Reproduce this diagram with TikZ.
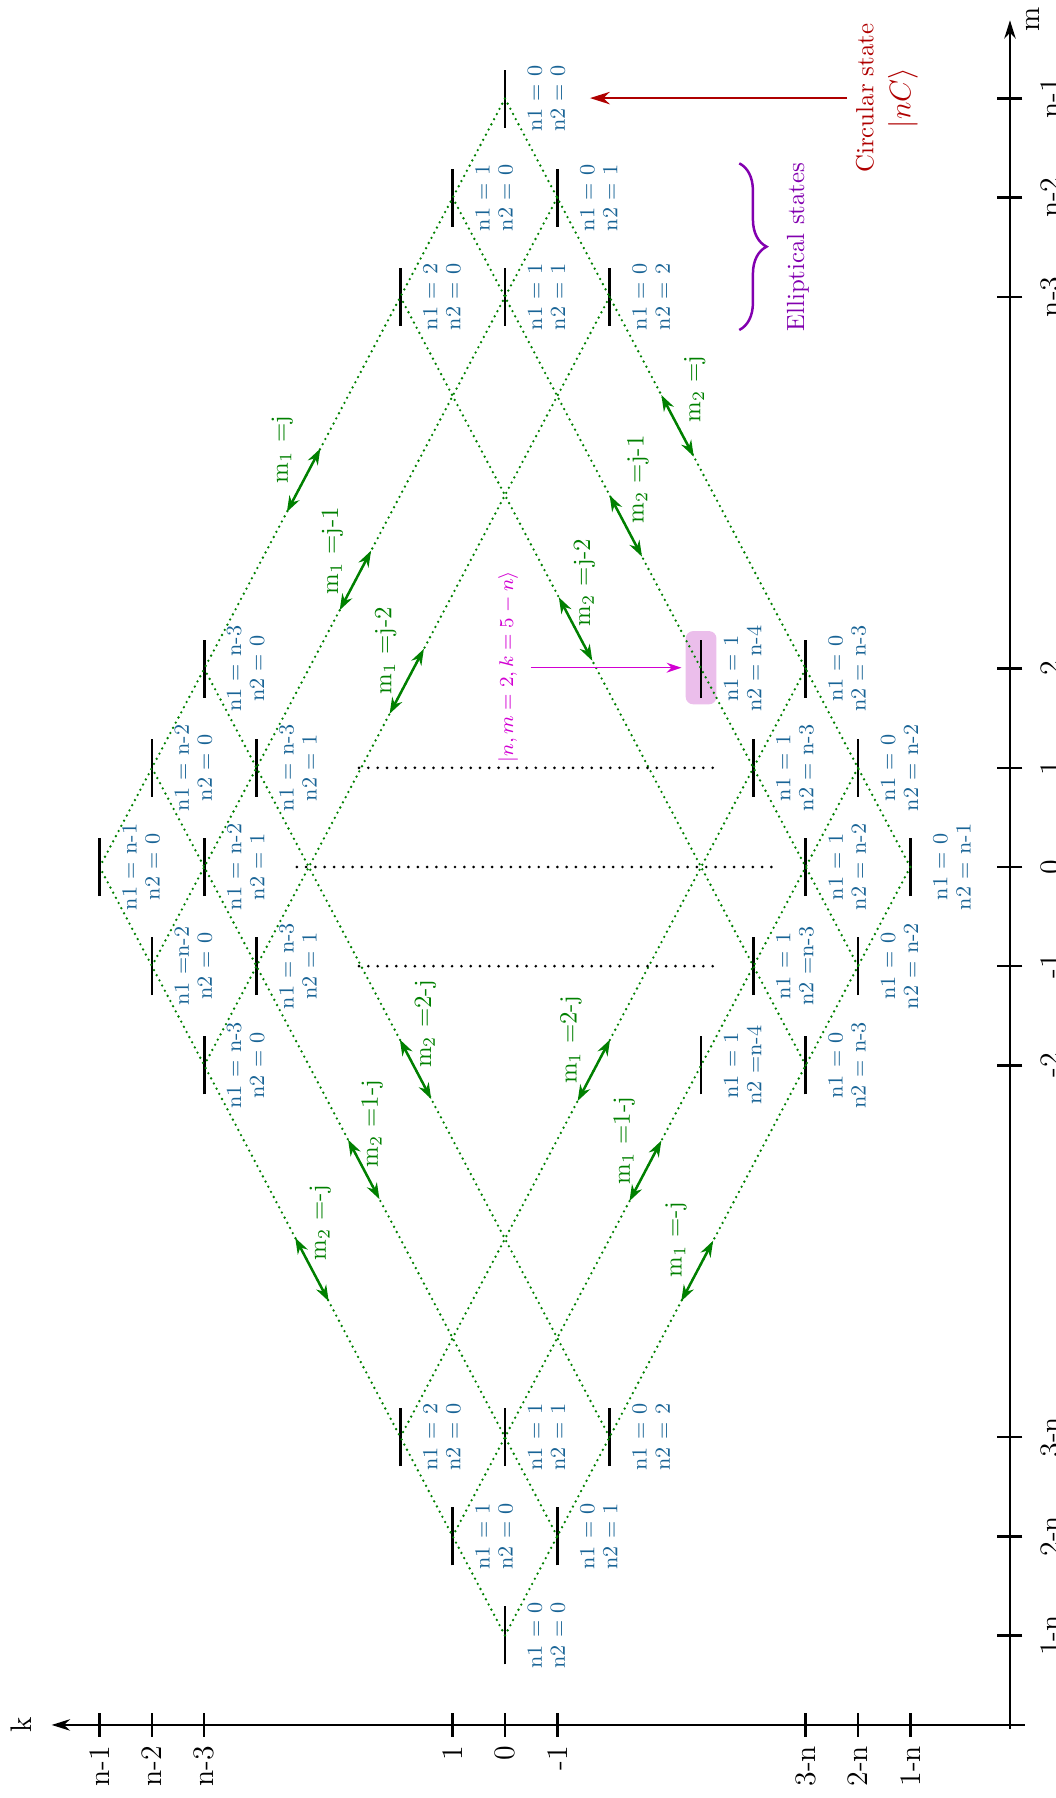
\documentclass[tikz,border=0pt]{standalone}
\usetikzlibrary{arrows.meta,decorations.pathreplacing}
\definecolor{dgreen}{RGB}{0,128,0}
\definecolor{nblue}{RGB}{25,100,150}
\definecolor{cred}{RGB}{175,0,0}
\definecolor{purp}{RGB}{130,0,175}
\definecolor{magc}{RGB}{210,0,210}
\definecolor{hlpink}{RGB}{235,190,235}
\def\nn{8.75}
\tikzset{
  levelbar/.style={line width=1.1pt, black},
  nlab/.style={rotate=90, align=center, text=nblue, font=\fontsize{8.7}{9.3}\selectfont, inner sep=0pt},
  gdots/.style={dgreen, line width=1.05pt, line cap=round, dash pattern=on 0pt off 2.35pt},
  bdots/.style={black, line width=1.2pt, line cap=round, dash pattern=on 0pt off 3.75pt},
  garr/.style={dgreen, line width=1pt, {Stealth[length=6.5pt,width=4.5pt]}-{Stealth[length=6.5pt,width=4.5pt]}},
  glab/.style={rotate=90, text=dgreen, inner sep=0pt},
  axisline/.style={line width=1pt, -{Stealth[length=7.4pt,width=4.6pt]}},
  axtick/.style={line width=1pt},
  klab/.style={rotate=90, anchor=east, inner sep=0pt, font=\large},
  mlab/.style={rotate=90, anchor=north, inner sep=0pt, font=\large}
}
\newcommand{\lvl}[5]{%
  \coordinate (#3) at ({#1},{#2});
  \draw[levelbar] ({#1-0.293},{#2}) -- ({#1+0.293},{#2});
  \node[nlab] (#3l) at ({#1},{#2-0.793}) {#4\\#5};
}
\begin{document}
\begin{tikzpicture}[x={(0pt,39.957pt)}, y={(-21.077pt,0pt)}]
\useasboundingbox (-203.5pt,-375.19pt) rectangle (222.05pt,349.4pt);

% highlight
\node[rotate=90, fill=hlpink, rounded corners=3pt, minimum width=29.5pt, minimum height=12.4pt, inner sep=0pt] (hl) at (2.01,{5-\nn}) {};

% levels: bottom
\lvl{1-\nn}{0}{b0}{n1 = 0}{n2 = 0}
\lvl{2-\nn}{1}{b1u}{n1 = 1}{n2 = 0}
\lvl{2-\nn}{-1}{b1d}{n1 = 0}{n2 = 1}
\lvl{3-\nn}{2}{b2u}{n1 = 2}{n2 = 0}
\lvl{3-\nn}{0}{b2c}{n1 = 1}{n2 = 1}
\lvl{3-\nn}{-2}{b2d}{n1 = 0}{n2 = 2}
% top
\lvl{\nn-1}{0}{t0}{n1 = 0}{n2 = 0}
\lvl{\nn-2}{1}{t1u}{n1 = 1}{n2 = 0}
\lvl{\nn-2}{-1}{t1d}{n1 = 0}{n2 = 1}
\lvl{\nn-3}{2}{t2u}{n1 = 2}{n2 = 0}
\lvl{\nn-3}{0}{t2c}{n1 = 1}{n2 = 1}
\lvl{\nn-3}{-2}{t2d}{n1 = 0}{n2 = 2}
% left (high k)
\lvl{0}{\nn-1}{L0}{n1 = n-1}{n2 = 0}
\lvl{1}{\nn-2}{L1p}{n1 = n-2}{n2 = 0}
\lvl{-1}{\nn-2}{L1m}{n1 =n-2}{n2 = 0}
\lvl{2}{\nn-3}{L2p}{n1 = n-3}{n2 = 0}
\lvl{-2}{\nn-3}{L2m}{n1 = n-3}{n2 = 0}
\lvl{0}{\nn-3}{L0b}{n1 = n-2}{n2 = 1}
\lvl{1}{\nn-4}{L1pb}{n1 = n-3}{n2 = 1}
\lvl{-1}{\nn-4}{L1mb}{n1 = n-3}{n2 = 1}
% right (low k)
\lvl{0}{1-\nn}{R0}{n1 = 0}{n2 = n-1}
\lvl{1}{2-\nn}{R1p}{n1 = 0}{n2 = n-2}
\lvl{-1}{2-\nn}{R1m}{n1 = 0}{n2 = n-2}
\lvl{2}{3-\nn}{R2p}{n1 = 0}{n2 = n-3}
\lvl{-2}{3-\nn}{R2m}{n1 = 0}{n2 = n-3}
\lvl{0}{3-\nn}{R0b}{n1 = 1}{n2 = n-2}
\lvl{1}{4-\nn}{R1pb}{n1 = 1}{n2 = n-3}
\lvl{-1}{4-\nn}{R1mb}{n1 = 1}{n2 =n-3}
\lvl{2}{5-\nn}{R2pb}{n1 = 1}{n2 = n-4}
\lvl{-2}{5-\nn}{R2mb}{n1 = 1}{n2 =n-4}

% dotted grid lines
\draw[gdots] (b0) -- (L0);
\draw[gdots] (b1d) -- (L1p);
\draw[gdots] (b2d) -- (L2p);
\draw[gdots] (R2m) -- (t2u);
\draw[gdots] (R1m) -- (t1u);
\draw[gdots] (R0) -- (t0);
\draw[gdots] (t0) -- (L0);
\draw[gdots] (t1d) -- (L1m);
\draw[gdots] (t2d) -- (L2m);
\draw[gdots] (R2p) -- (b2u);
\draw[gdots] (R1p) -- (b1u);
\draw[gdots] (R0) -- (b0);

% black dotted omission lines
\coordinate (d1a) at (1,2.79);  \coordinate (d1b) at (1,-4.07);
\coordinate (d0a) at (0,3.98);  \coordinate (d0b) at (0,-5.24);
\coordinate (dma) at (-1,2.79); \coordinate (dmb) at (-1,-4.07);
\draw[bdots] (d1a) -- (d1b);
\draw[bdots] (d0a) -- (d0b);
\draw[bdots] (dma) -- (dmb);

% green double arrows with labels
\coordinate (a1s) at (3.58,4.17);   \coordinate (a1e) at (4.22,3.53);
\coordinate (a2s) at (2.59,3.16);   \coordinate (a2e) at (3.19,2.56);
\coordinate (a3s) at (1.545,2.205); \coordinate (a3e) at (2.2,1.55);
\coordinate (a4s) at (2.08,-1.67);  \coordinate (a4e) at (2.72,-1.03);
\coordinate (a5s) at (3.13,-2.62);  \coordinate (a5e) at (3.75,-2.0);
\coordinate (a6s) at (4.14,-3.61);  \coordinate (a6e) at (4.76,-2.99);
\coordinate (a7s) at (-2.34,1.41);  \coordinate (a7e) at (-1.74,2.01);
\coordinate (a8s) at (-3.35,2.40);  \coordinate (a8e) at (-2.75,3.0);
\coordinate (a9s) at (-4.38,3.37);  \coordinate (a9e) at (-3.74,4.01);
\coordinate (a10s) at (-2.36,-1.39); \coordinate (a10e) at (-1.74,-2.01);
\coordinate (a11s) at (-3.37,-2.38); \coordinate (a11e) at (-2.76,-2.99);
\coordinate (a12s) at (-4.38,-3.37); \coordinate (a12e) at (-3.77,-3.98);
\foreach \i in {1,...,12}{\draw[garr] (a\i s) -- (a\i e);}
\node[glab] (l1) at (4.21,4.26) {m$_1$ =j};
\node[glab] (l2) at (3.19,3.30) {m$_1$ =j-1};
\node[glab] (l3) at (2.18,2.28) {m$_1$ =j-2};
\node[glab] (l4) at (2.87,-1.52) {m$_2$ =j-2};
\node[glab] (l5) at (3.91,-2.54) {m$_2$ =j-1};
\node[glab] (l6) at (4.82,-3.63) {m$_2$ =j};
\node[glab] (l7) at (-1.585,1.52) {m$_2$ =2-j};
\node[glab] (l8) at (-2.59,2.54) {m$_2$ =1-j};
\node[glab] (l9) at (-3.59,3.53) {m$_2$ =-j};
\node[glab] (l10) at (-1.745,-1.26) {m$_1$ =2-j};
\node[glab] (l11) at (-2.76,-2.28) {m$_1$ =1-j};
\node[glab] (l12) at (-3.76,-3.27) {m$_1$ =-j};

% ket label and magenta arrow
\node[rotate=90, text=magc, font=\footnotesize] (ket) at (2.02,-0.06) {$|n, m=2, k=5-n\rangle$};
\coordinate (ketarr) at (2.01,-0.497);
\draw[magc, line width=0.6pt, -{Stealth[length=6pt,width=4pt]}, shorten >=1.5pt] (ketarr) -- (hl.north);

% circular state
\node[rotate=90, text=cred] (circ) at (7.755,-6.883) {Circular state};
\node[rotate=90, text=cred, font=\large] (circket) at (7.756,-7.61) {$|nC\rangle$};
\coordinate (circtip) at (7.755,-1.625);
\draw[cred, line width=1pt, -{Stealth[length=8pt,width=5pt]}] (circ.north) -- (circtip);

% elliptical states
\draw[purp, line width=1pt, decorate, decoration={brace, amplitude=11pt}] (7.097,-4.48) -- (5.416,-4.48);
\node[rotate=90, text=purp] (ell) at (6.253,-5.602) {Elliptical states};

% axes
\coordinate (kaS) at (-8.653,-9.94);
\coordinate (kaE) at (-8.653,8.667);
\coordinate (maS) at (-8.694,-9.656);
\coordinate (maE) at (8.54,-9.656);
\draw[axisline] (kaS) -- (kaE);
\draw[axisline] (maS) -- (maE);
\node[rotate=90, font=\large] (klabel) at (-8.653,9.25) {k};
\node[rotate=90, font=\large] (mlabel) at (8.548,-10.1) {m};
\foreach \v/\t in {{\nn-1}/n-1,{\nn-2}/n-2,{\nn-3}/n-3,2/2,1/1,0/0,-1/-1,-2/-2,{3-\nn}/3-n,{2-\nn}/2-n,{1-\nn}/1-n}{
  \draw[axtick] ({\v},-9.895) -- ({\v},-9.417);
  \node[mlab] at ({\v},-10.23) {\t};
}
\foreach \v/\t in {{\nn-1}/n-1,{\nn-2}/n-2,{\nn-3}/n-3,1/1,0/0,-1/-1,{3-\nn}/3-n,{2-\nn}/2-n,{1-\nn}/1-n}{
  \draw[axtick] (-8.774,{\v}) -- (-8.532,{\v});
  \node[klab] at (-8.86,{\v}) {\t};
}
\end{tikzpicture}
\end{document}
